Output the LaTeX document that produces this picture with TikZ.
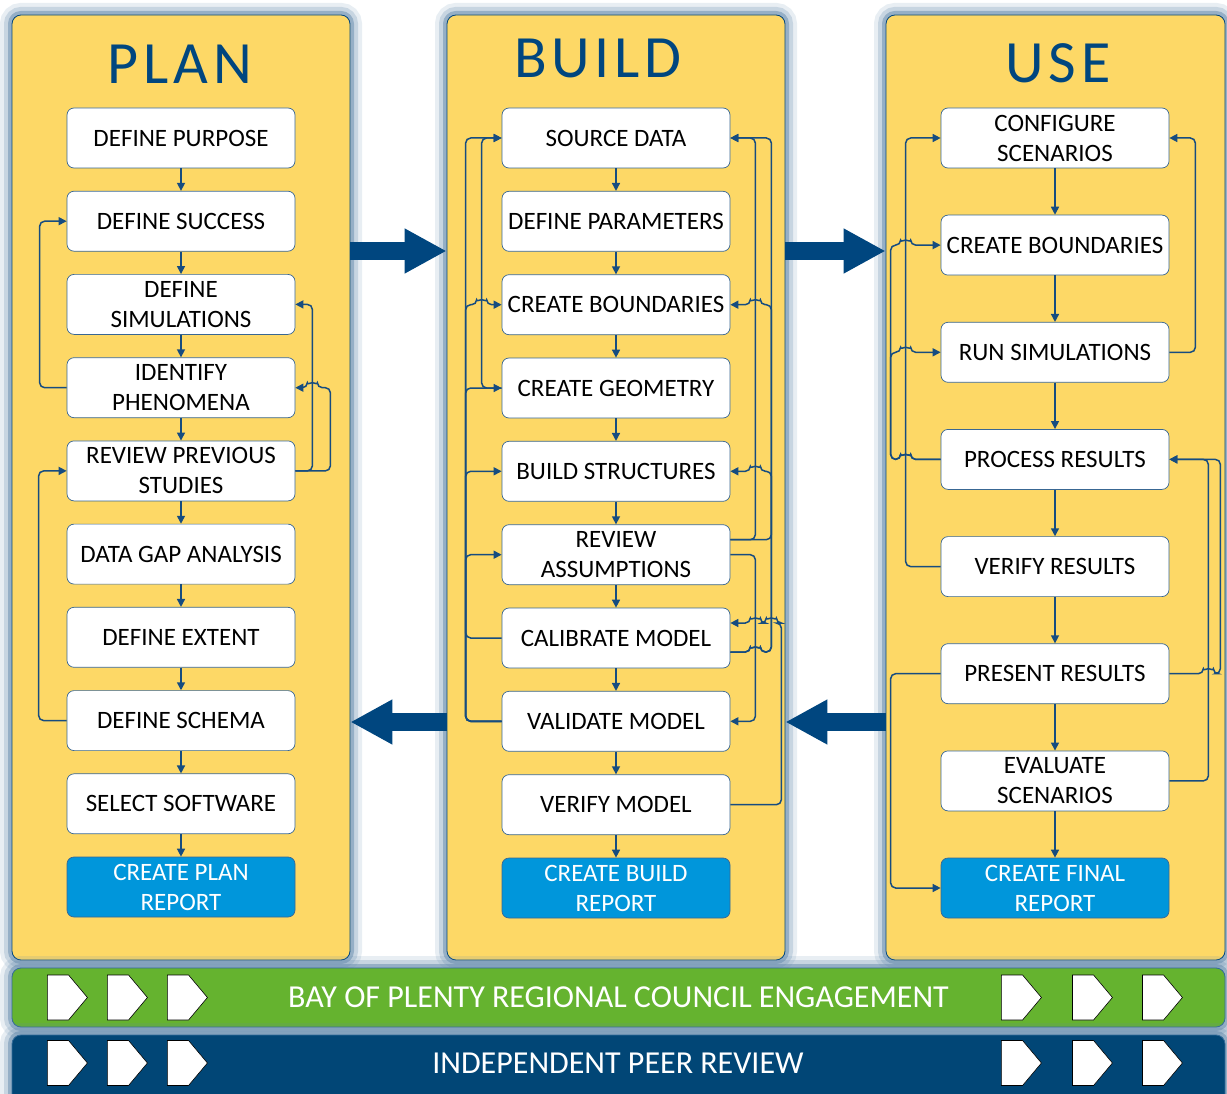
\documentclass[tikz,border=0pt]{standalone}
\usepackage{fontspec}
\setmainfont{Carlito}
\newfontfamily\titlefont[LetterSpace=8]{Carlito}
\usetikzlibrary{arrows.meta,shapes.symbols}
\definecolor{panelyellow}{RGB}{253,216,102}
\definecolor{navy}{RGB}{0,70,127}
\definecolor{linkblue}{RGB}{22,76,128}
\definecolor{reportblue}{RGB}{0,150,219}
\definecolor{bandgreen}{RGB}{101,179,47}
\definecolor{bandblue}{RGB}{1,70,118}
\definecolor{glow}{RGB}{100,138,172}

\begin{document}
\begin{tikzpicture}[x=1pt, y=-1pt, every node/.style={font=\fontsize{25}{30}\selectfont},
  panel/.style={draw=navy, line width=0.8pt, fill=panelyellow, rounded corners=9pt, inner sep=0pt,
    preaction={draw=glow, line width=24pt, opacity=.15},
    preaction={draw=glow, line width=16pt, opacity=.25},
    preaction={draw=glow, line width=8pt, opacity=.5}},
  coltitle/.style={font=\titlefont\fontsize{60}{60}\selectfont, text=navy},
  stepbox/.style={draw=linkblue!85, line width=0.7pt, fill=white, rounded corners=7pt, minimum width=228pt, minimum height=60pt, inner xsep=2pt, align=center},
  report/.style={stepbox, fill=reportblue, text=white},
  flow/.style={draw=linkblue, line width=1.5pt, -{Triangle[length=8pt,width=8pt]}},
  link/.style={flow, rounded corners=5pt},
  bigarrow/.style={draw=navy, line width=18pt, -{Triangle[length=42pt,width=42pt]}},
  band/.style={panel, draw=navy!80, minimum width=1213pt, text=white, font=\fontsize{32}{32}\selectfont},
  chevron/.style={draw=black, line width=0.6pt, fill=white, shape=signal, signal to=east, signal pointer angle=100, minimum width=40pt, minimum height=45pt, inner sep=0pt}]
	\useasboundingbox (0,0) rectangle (1227,1094);
	\node[panel, minimum width=338pt, minimum height=945pt] (plan) at (181,487.5) {};
	\node[panel, minimum width=338pt, minimum height=945pt] (build) at (616,487.5) {};
	\node[panel, minimum width=339pt, minimum height=945pt] (use) at (1055.5,487.5) {};
	\node[band, fill=bandgreen, minimum height=59pt] (engage) at (618.5,997.5) {BAY OF PLENTY REGIONAL COUNCIL ENGAGEMENT};
	\node[band, fill=bandblue, minimum height=72pt] (review) at (618.5,1071) {};
	\node[text=white, font=\fontsize{32}{32}\selectfont] (reviewtext) at (618,1063) {INDEPENDENT PEER REVIEW};
	\node[coltitle] (plantitle) at (180,64) {PLAN};
	\node[coltitle] (buildtitle) at (598,58) {BUILD};
	\node[coltitle] (usetitle) at (1058,63) {USE};
	\draw[bigarrow] (plan.east |- 0,251) -- (build.west |- 0,251);
	\draw[bigarrow] (build.east |- 0,251) -- (use.west |- 0,251);
	\draw[bigarrow] (use.west |- 0,722) -- (build.east |- 0,722);
	\draw[bigarrow] (build.west |- 0,722) -- (plan.east |- 0,722);
	\node[stepbox] (p1) at (181,138) {DEFINE PURPOSE};
	\node[stepbox] (p2) at (181,221.2) {DEFINE SUCCESS};
	\node[stepbox] (p3) at (181,304.4) {DEFINE\\SIMULATIONS};
	\node[stepbox] (p4) at (181,387.7) {IDENTIFY\\PHENOMENA};
	\node[stepbox] (p5) at (181,470.9) {REVIEW PREVIOUS\\STUDIES};
	\node[stepbox] (p6) at (181,554.1) {DATA GAP ANALYSIS};
	\node[stepbox] (p7) at (181,637.3) {DEFINE EXTENT};
	\node[stepbox] (p8) at (181,720.6) {DEFINE SCHEMA};
	\node[stepbox] (p9) at (181,803.8) {SELECT SOFTWARE};
	\node[report] (p10) at (181,887) {CREATE PLAN\\REPORT};
	\node[stepbox] (b1) at (616,138) {SOURCE DATA};
	\node[stepbox] (b2) at (616,221.3) {DEFINE PARAMETERS};
	\node[stepbox] (b3) at (616,304.7) {CREATE BOUNDARIES};
	\node[stepbox] (b4) at (616,388) {CREATE GEOMETRY};
	\node[stepbox] (b5) at (616,471.3) {BUILD STRUCTURES};
	\node[stepbox] (b6) at (616,554.7) {REVIEW\\ASSUMPTIONS};
	\node[stepbox] (b7) at (616,638) {CALIBRATE MODEL};
	\node[stepbox] (b8) at (616,721.3) {VALIDATE MODEL};
	\node[stepbox] (b9) at (616,804.7) {VERIFY MODEL};
	\node[report] (b10) at (616,888) {CREATE BUILD\\REPORT};
	\node[stepbox] (u1) at (1055,138) {CONFIGURE\\SCENARIOS};
	\node[stepbox] (u2) at (1055,245.1) {CREATE BOUNDARIES};
	\node[stepbox] (u3) at (1055,352.3) {RUN SIMULATIONS};
	\node[stepbox] (u4) at (1055,459.4) {PROCESS RESULTS};
	\node[stepbox] (u5) at (1055,566.6) {VERIFY RESULTS};
	\node[stepbox] (u6) at (1055,673.7) {PRESENT RESULTS};
	\node[stepbox] (u7) at (1055,780.9) {EVALUATE\\SCENARIOS};
	\node[report] (u8) at (1055,888) {CREATE FINAL\\REPORT};
	\draw[flow] (p1) -- (p2);
	\draw[flow] (p2) -- (p3);
	\draw[flow] (p3) -- (p4);
	\draw[flow] (p4) -- (p5);
	\draw[flow] (p5) -- (p6);
	\draw[flow] (p6) -- (p7);
	\draw[flow] (p7) -- (p8);
	\draw[flow] (p8) -- (p9);
	\draw[flow] (p9) -- (p10);
	\draw[flow] (b1) -- (b2);
	\draw[flow] (b2) -- (b3);
	\draw[flow] (b3) -- (b4);
	\draw[flow] (b4) -- (b5);
	\draw[flow] (b5) -- (b6);
	\draw[flow] (b6) -- (b7);
	\draw[flow] (b7) -- (b8);
	\draw[flow] (b8) -- (b9);
	\draw[flow] (b9) -- (b10);
	\draw[flow] (u1) -- (u2);
	\draw[flow] (u2) -- (u3);
	\draw[flow] (u3) -- (u4);
	\draw[flow] (u4) -- (u5);
	\draw[flow] (u5) -- (u6);
	\draw[flow] (u6) -- (u7);
	\draw[flow] (u7) -- (u8);
	\draw[link] (p4.west) -| ([xshift=-27pt]p2.west) -- (p2.west);
	\draw[link] (p8.west) -| ([xshift=-28pt]p5.west) -- (p5.west);
	\draw[link] (p5.east) -| ([xshift=17pt]p3.east) -- (p3.east);
	\draw[link] (p5.east) -| ([xshift=35pt]p4.east) -- ([xshift=22pt]p4.east) arc[start angle=0, end angle=180, radius=5pt] -- (p4.east);
	\draw[link] (b8.west) -| ([xshift=-36pt]b1.west) -- (b1.west);
	\draw[link] (b8.west) -| ([xshift=-36pt]b3.west) -- ([xshift=-25pt]b3.west) arc[start angle=180, end angle=0, radius=5pt] -- (b3.west);
	\draw[link] (b8.west) -| ([xshift=-36pt]b4.west) -- (b4.west);
	\draw[link] (b8.west) -| ([xshift=-36pt]b5.west) -- (b5.west);
	\draw[link] (b7.west) -| ([xshift=-36pt]b6.west) -- (b6.west);
	\draw[link] (b4.west) -| ([xshift=-20pt]b1.west) -- (b1.west);
	\draw[link] ([yshift=15pt]b6.east) -| ([xshift=25pt]b1.east) -- (b1.east);
	\draw[link] ([yshift=15pt]b6.east) -| ([xshift=41pt]b1.east) -- (b1.east);
	\draw[link] ([yshift=-14pt]b7.east) -- ([xshift=20pt,yshift=-14pt]b7.east) arc[start angle=180, end angle=0, radius=5pt] -| ([xshift=41pt]b3.east) -- ([xshift=30pt]b3.east) arc[start angle=0, end angle=180, radius=5pt] -- (b3.east);
	\draw[link] ([yshift=-14pt]b7.east) -- ([xshift=20pt,yshift=-14pt]b7.east) arc[start angle=180, end angle=0, radius=5pt] -| ([xshift=41pt]b5.east) -- ([xshift=30pt]b5.east) arc[start angle=0, end angle=180, radius=5pt] -- (b5.east);
	\draw[link] (b6.east) -| ([xshift=25pt]b8.east) -- (b8.east);
	\draw[link] (b9.east) -| ([xshift=51pt,yshift=15pt]b7.east) -- ([xshift=46pt,yshift=15pt]b7.east) arc[start angle=0, end angle=180, radius=5pt] -- ([xshift=30pt,yshift=15pt]b7.east) arc[start angle=0, end angle=180, radius=5pt] -- ([yshift=15pt]b7.east);
	\draw[link] (u5.west) -| ([xshift=-35pt]u1.west) -- (u1.west);
	\draw[link] (u4.west) -- ([xshift=-30pt]u4.west) arc[start angle=0, end angle=180, radius=5pt] -| ([xshift=-50pt]u2.west) -- ([xshift=-40pt]u2.west) arc[start angle=180, end angle=0, radius=5pt] -- (u2.west);
	\draw[link] (u4.west) -- ([xshift=-30pt]u4.west) arc[start angle=0, end angle=180, radius=5pt] -| ([xshift=-50pt]u3.west) -- ([xshift=-40pt]u3.west) arc[start angle=180, end angle=0, radius=5pt] -- (u3.west);
	\draw[link] (u6.west) -| ([xshift=-50pt]u8.west) -- (u8.west);
	\draw[link] (u3.east) -| ([xshift=26pt]u1.east) -- (u1.east);
	\draw[link] (u7.east) -| ([xshift=39pt]u4.east) -- (u4.east);
	\draw[link] (u6.east) -- ([xshift=34pt]u6.east) arc[start angle=180, end angle=0, radius=5pt] -| ([xshift=51pt]u4.east) -- (u4.east);
	\node[chevron] (g1) at (58,997.5) {};
	\node[chevron] (g2) at (118,997.5) {};
	\node[chevron] (g3) at (178,997.5) {};
	\node[chevron] (g4) at (1012,997.5) {};
	\node[chevron] (g5) at (1083,997.5) {};
	\node[chevron] (g6) at (1153,997.5) {};
	\node[chevron] (r1) at (58,1063) {};
	\node[chevron] (r2) at (118,1063) {};
	\node[chevron] (r3) at (178,1063) {};
	\node[chevron] (r4) at (1012,1063) {};
	\node[chevron] (r5) at (1083,1063) {};
	\node[chevron] (r6) at (1153,1063) {};
\end{tikzpicture}
\end{document}
